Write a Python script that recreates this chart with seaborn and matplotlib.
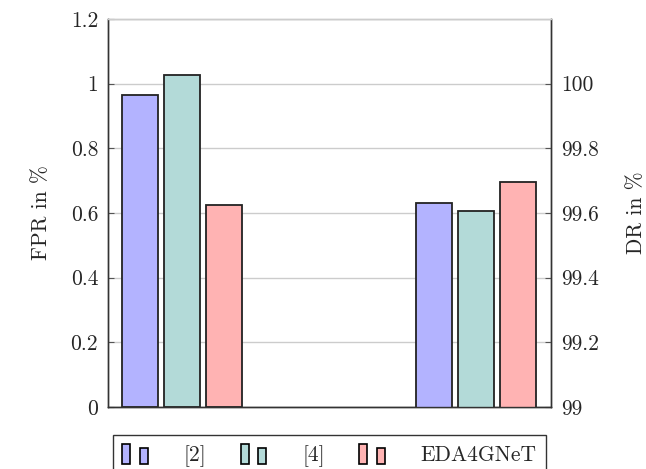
import matplotlib
matplotlib.use("Agg")
import matplotlib.pyplot as plt
from matplotlib.patches import Rectangle
from matplotlib.legend_handler import HandlerBase
import pandas as pd
import seaborn as sns

# data
methods = ["[2]", "[4]", "EDA4GNeT"]
metrics = ["FPR", "DR"]
fpr_values = [0.965, 1.027, 0.625]
dr_values = [99.63, 99.606, 99.697]
colors = ["#B3B3FF", "#B3DAD8", "#FFB3B3"]
fpr_ticks = [0, 0.2, 0.4, 0.6, 0.8, 1, 1.2]
dr_ticks = [99, 99.2, 99.4, 99.6, 99.8, 100]

sns.set_style("white")
plt.rcParams["font.family"] = ["cmr10", "DejaVu Serif"]
plt.rcParams["axes.formatter.use_mathtext"] = True
plt.rcParams["font.size"] = 15.5


class TwoBarHandler(HandlerBase):
    """pgfplots-like ybar legend image: two small bars"""
    def create_artists(self, legend, orig_handle, xdescent, ydescent,
                       width, height, fontsize, trans):
        fc = orig_handle.get_facecolor()
        w = width * 0.3
        y0 = -ydescent - height * 0.2
        r1 = Rectangle((-xdescent, y0), w, height * 1.3,
                       facecolor=fc, edgecolor="black", lw=1.2, transform=trans)
        r2 = Rectangle((-xdescent + width * 0.65, y0), w, height * 1.05,
                       facecolor=fc, edgecolor="black", lw=1.2, transform=trans)
        return [r1, r2]


fpr_df = pd.DataFrame({"metric": "FPR", "method": methods, "value": fpr_values})
dr_df = pd.DataFrame({"metric": "DR", "method": methods, "value": dr_values})

fig = plt.figure(figsize=(6.46, 4.69), dpi=100)
ax = fig.add_axes([0.167, 0.132, 0.686, 0.8275])
ax2 = ax.twinx()

palette = dict(zip(methods, colors))
sns.barplot(data=fpr_df, x="metric", y="value", hue="method", order=metrics,
            hue_order=methods, palette=palette, width=0.4286, gap=0.143,
            saturation=1, edgecolor="#222222", linewidth=1.3, ax=ax, legend=False)
sns.barplot(data=dr_df, x="metric", y="value", hue="method", order=metrics,
            hue_order=methods, palette=palette, width=0.4286, gap=0.143,
            saturation=1, edgecolor="#222222", linewidth=1.3, ax=ax2, legend=False)

ax.set_xlim(-0.2517, 1.255)
ax.set_ylim(0, 1.2)
ax2.set_ylim(99, 100.2)
ax.set_yticks(fpr_ticks)
ax.set_yticklabels([f"{t:g}" for t in fpr_ticks])
ax2.set_yticks(dr_ticks)
ax2.set_yticklabels([f"{t:g}" for t in dr_ticks])
ax.set_xticks([])
ax.set_xlabel("")
ax2.set_xlabel("")
ax.set_ylabel("FPR in %", labelpad=14)
ax2.set_ylabel("DR in %", labelpad=20)

ax.yaxis.grid(True, color="#cccccc", lw=1.0)
ax.set_axisbelow(True)
for a in (ax, ax2):
    a.tick_params(axis="y", direction="in", length=4, color="#555555",
                  width=0.8, pad=7)
    for s in a.spines.values():
        s.set_color("#333333")
        s.set_linewidth(1.0)
    a.spines["top"].set_color("#cccccc")
ax.tick_params(axis="y", right=False)
ax2.tick_params(axis="y", left=False)

handles = [Rectangle((0, 0), 1, 1, facecolor=c) for c in colors]
leg = ax.legend(handles, methods, handler_map={Rectangle: TwoBarHandler()},
                loc="upper center", bbox_to_anchor=(0.5, -0.045), ncol=3,
                frameon=True, fancybox=False, edgecolor="black",
                handlelength=1.25, handletextpad=1.6, columnspacing=1.6,
                borderpad=0.45, fontsize=15.5)
leg.get_frame().set_linewidth(1.0)

fig.savefig("out.png", dpi=100)
